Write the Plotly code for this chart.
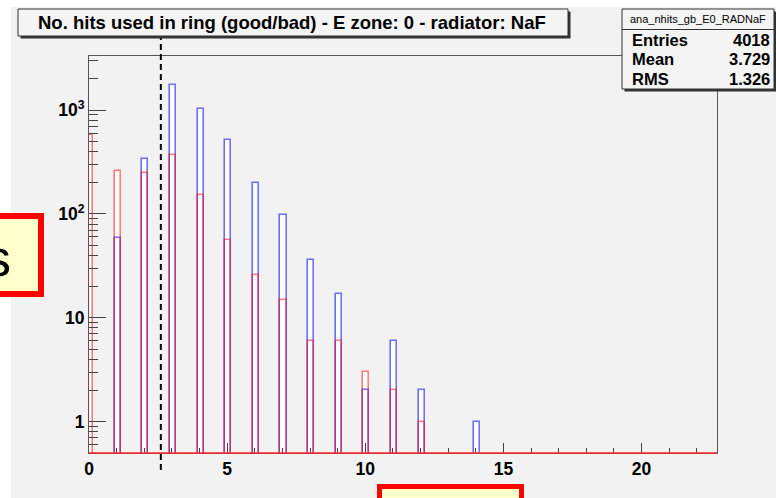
import plotly.graph_objects as go

# ---------------- data ----------------
nhits = list(range(0, 15))
good = [0, 59, 337, 1753, 1023, 511, 197, 97, 36, 17, 2, 6, 2, 0, 1]
bad = [575, 260, 248, 366, 152, 56, 26, 15, 6, 6, 3, 2, 1, 0, 0]
cut_value = 2.6
title_text = "No. hits used in ring (good/bad) - E zone: 0 - radiator: NaF"
stats_name = "ana_nhits_gb_E0_RADNaF"
stats_labels = ["Entries", "Mean", "RMS"]
stats_values = ["4018", "3.729", "1.326"]
x_tickvals = [0, 5, 10, 15, 20]
y_tickvals = [1, 10, 100, 1000]
y_ticktext = ["1", "10", "10<sup>2</sup>", "10<sup>3</sup>"]
y_minor = [0.6, 0.7, 0.8, 0.9] + [k * m for m in (1, 10, 100) for k in range(2, 10)] + [2000, 3000]

# ---------------- geometry ----------------
W, H = 776, 498
L, T, R, B = 89, 56, 717, 453
PW, PH = R - L, B - T


def px(x):
    return (x - L) / PW


def py(y):
    return (B - y) / PH


FONT = "Liberation Sans, Arial, Helvetica, sans-serif"

# bin edges
lefts = [max(n - 0.07, 0.0) for n in nhits]
rights = [n + 0.15 for n in nhits]
centers = [(a + b) / 2 for a, b in zip(lefts, rights)]
widths = [b - a for a, b in zip(lefts, rights)]


def sel(vals):
    idx = [i for i, v in enumerate(vals) if v > 0]
    return ([centers[i] for i in idx], [vals[i] for i in idx], [widths[i] for i in idx])


fig = go.Figure()

mx = [max(g, b) for g, b in zip(good, bad)]
cx, cy, cw = sel(mx)
fig.add_trace(go.Bar(x=cx, y=cy, width=cw, marker=dict(color="rgba(255,255,255,0.85)", line=dict(width=0)),
                     showlegend=False, hoverinfo="skip"))
gx, gy, gw = sel(good)
fig.add_trace(go.Bar(x=gx, y=gy, width=gw,
                     marker=dict(color="rgba(0,0,0,0)", line=dict(color="rgba(0,0,255,0.55)", width=1.6)),
                     showlegend=False))
bx, by, bw = sel(bad)
fig.add_trace(go.Bar(x=bx, y=by, width=bw,
                     marker=dict(color="rgba(0,0,0,0)", line=dict(color="rgba(255,0,0,0.5)", width=1.6)),
                     showlegend=False))

shapes = []
# canvas background (grey, with white strip at top and left)
shapes.append(dict(type="rect", xref="paper", yref="paper", x0=px(11), x1=px(W + 5), y0=py(7), y1=py(H + 5),
                   fillcolor="#f2f2f2", line=dict(width=0), layer="below"))
# baseline of histogram
shapes.append(dict(type="line", xref="paper", yref="paper", x0=0, x1=1, y0=0, y1=0,
                   line=dict(color="rgba(255,40,40,0.75)", width=2), layer="above"))
# dashed cut line
shapes.append(dict(type="line", xref="x", yref="paper", x0=cut_value, x1=cut_value, y0=py(470), y1=py(36),
                   line=dict(color="black", width=2, dash="6px,4px"), layer="above"))
# title box shadow + box
shapes.append(dict(type="rect", xref="paper", yref="paper", x0=px(20.5), x1=px(570.5), y0=py(38.5), y1=py(11.5),
                   fillcolor="#333333", line=dict(width=0), layer="above"))
shapes.append(dict(type="rect", xref="paper", yref="paper", x0=px(18), x1=px(568), y0=py(36), y1=py(9),
                   fillcolor="#f4f4f4", line=dict(color="#333333", width=1), layer="above"))
# stats box shadow + box
shapes.append(dict(type="rect", xref="paper", yref="paper", x0=px(624.5), x1=px(777), y0=py(91.5), y1=py(11.5),
                   fillcolor="#333333", line=dict(width=0), layer="above"))
shapes.append(dict(type="rect", xref="paper", yref="paper", x0=px(622), x1=px(774), y0=py(89), y1=py(9),
                   fillcolor="#f4f4f4", line=dict(color="#333333", width=1), layer="above"))
shapes.append(dict(type="line", xref="paper", yref="paper", x0=px(622), x1=px(774), y0=py(29.5), y1=py(29.5),
                   line=dict(color="#333333", width=1), layer="above"))
# overlay boxes (slide annotations)
shapes.append(dict(type="rect", xref="paper", yref="paper", x0=px(-60), x1=px(41), y0=py(294), y1=py(216),
                   fillcolor="#ffffcc", line=dict(color="#ff0000", width=6), layer="above"))
shapes.append(dict(type="rect", xref="paper", yref="paper", x0=px(379.5), x1=px(521.5), y0=py(520), y1=py(486.5),
                   fillcolor="#ffffcc", line=dict(color="#ff0000", width=5), layer="above"))

annotations = []
annotations.append(dict(xref="paper", yref="paper", x=px(292), y=py(22.5), text=title_text, showarrow=False,
                        xanchor="center", yanchor="middle",
                        font=dict(family=FONT, size=18.5, color="black", weight="bold")))
annotations.append(dict(xref="paper", yref="paper", x=px(698), y=py(19.5), text=stats_name, showarrow=False,
                        xanchor="center", yanchor="middle", font=dict(family=FONT, size=11, color="black")))
row_y = [40, 59, 78.5]
for lab, val, yy in zip(stats_labels, stats_values, row_y):
    annotations.append(dict(xref="paper", yref="paper", x=px(630), y=py(yy), text=lab, showarrow=False,
                            xanchor="left", yanchor="middle",
                            font=dict(family=FONT, size=16.5, color="black", weight="bold")))
    annotations.append(dict(xref="paper", yref="paper", x=px(772), y=py(yy), text=val, showarrow=False,
                            xanchor="right", yanchor="middle",
                            font=dict(family=FONT, size=16.5, color="black", weight="bold")))
annotations.append(dict(xref="paper", yref="paper", x=px(13), y=py(258), text="s", showarrow=False,
                        xanchor="right", yanchor="middle",
                        font=dict(family=FONT, size=52, color="black")))

fig.update_layout(
    width=W, height=H,
    margin=dict(l=L, r=W - R, t=T, b=H - B, pad=0),
    paper_bgcolor="white",
    plot_bgcolor="rgba(0,0,0,0)",
    barmode="overlay",
    bargap=0,
    showlegend=False,
    shapes=shapes,
    annotations=annotations,
    xaxis=dict(range=[0, 22.73], tickmode="array", tickvals=x_tickvals, ticks="inside", ticklen=10,
               tickcolor="#444", showgrid=False, zeroline=False, showline=True, mirror=True,
               linecolor="#555", linewidth=1,
               tickfont=dict(family=FONT, size=17.5, color="black", weight="bold"),
               minor=dict(dtick=1, tick0=0, ticks="inside", ticklen=5, tickcolor="#444", showgrid=False)),
    yaxis=dict(type="log", range=[-0.301, 3.52], tickmode="array", tickvals=y_tickvals, ticktext=y_ticktext,
               ticks="inside", ticklen=17, tickcolor="#444", showgrid=False, zeroline=False, showline=True,
               mirror=True, linecolor="#555", linewidth=1,
               tickfont=dict(family=FONT, size=17.5, color="black", weight="bold"),
               minor=dict(tickmode="array", tickvals=y_minor, ticks="inside", ticklen=9, tickcolor="#444",
                          showgrid=False)),
)

fig.write_html("out.html")
